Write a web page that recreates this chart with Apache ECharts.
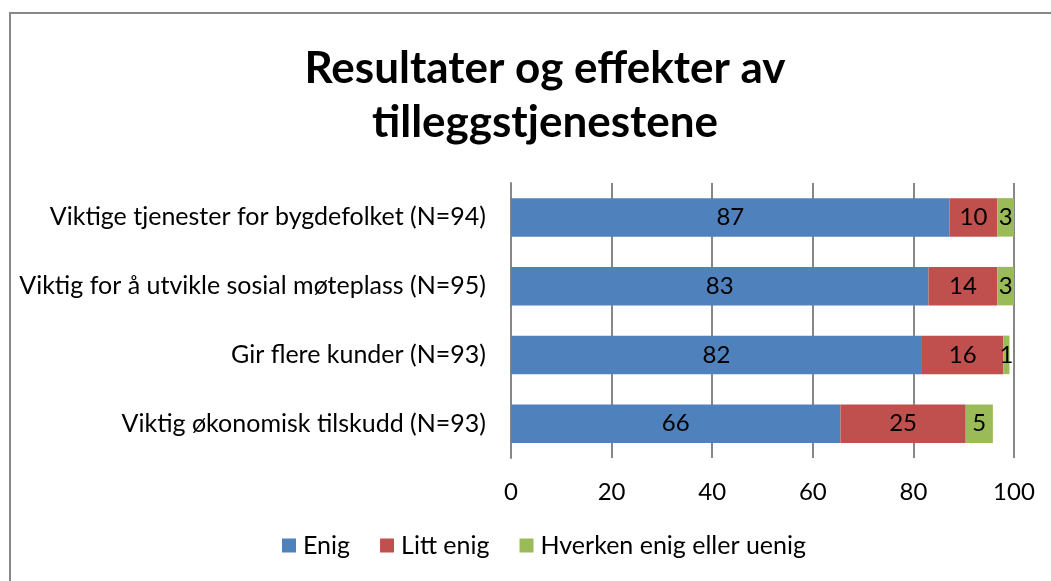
<!DOCTYPE html>
<html>
<head>
<meta charset="utf-8">
<script src="https://cdn.jsdelivr.net/npm/echarts@6/dist/echarts.min.js"></script>
<style>
  html, body { margin: 0; padding: 0; background: #fff; }
  #frame {
    position: absolute; left: 9px; top: 12px; width: 1100px; height: 640px;
    border-left: 2px solid #878787; border-top: 2px solid #878787;
    box-sizing: border-box;
  }
  #chart { position: absolute; left: 0; top: 0; width: 1051px; height: 581px; }
</style>
</head>
<body>
<div id="frame"></div>
<div id="chart"></div>
<script>
// data
const categories = [
  "Viktige tjenester for bygdefolket (N=94)",
  "Viktig for å utvikle sosial møteplass (N=95)",
  "Gir flere kunder (N=93)",
  "Viktig økonomisk tilskudd (N=93)"
];
const enig = [87.2, 83.0, 81.7, 65.5];
const littEnig = [9.5, 13.7, 16.2, 24.9];
const hverken = [3.3, 3.3, 1.2, 5.4];
const xTicks = [0, 20, 40, 60, 80, 100];

const FONT = "Lato, 'Open Sans', sans-serif";

const chart = echarts.init(document.getElementById("chart"));

function barSeries(name, data, color) {
  return {
    name: name,
    type: "bar",
    stack: "total",
    data: data,
    barWidth: "56%",
    itemStyle: { color: color },
    label: {
      show: true,
      position: "inside",
      color: "#000",
      fontFamily: FONT,
      fontSize: 24,
      formatter: (p) => Math.round(p.value)
    }
  };
}

chart.setOption({
  animation: false,
  title: {
    text: "Resultater og effekter av\ntilleggstjenestene",
    left: 540,
    textAlign: "center",
    top: 37,
    textStyle: {
      fontFamily: FONT,
      fontSize: 44,
      fontWeight: "bold",
      color: "#000",
      lineHeight: 54
    }
  },
  legend: {
    bottom: 18,
    left: 277,
    itemWidth: 14,
    itemHeight: 14,
    itemGap: 30,
    icon: "rect",
    textStyle: { fontFamily: FONT, fontSize: 25, color: "#000", padding: [0, 0, 0, 2] },
    data: ["Enig", "Litt enig", "Hverken enig eller uenig"]
  },
  grid: { left: 511, right: 37, top: 183, bottom: 123, containLabel: false },
  xAxis: {
    type: "value",
    min: 0,
    max: 100,
    interval: 20,
    axisLine: { show: false },
    axisTick: { show: false },
    splitLine: { show: true, lineStyle: { color: "#878787", width: 2 } },
    axisLabel: {
      fontFamily: FONT,
      fontSize: 24,
      color: "#000",
      margin: 22,
      formatter: (v) => (xTicks.includes(v) ? String(v) : "")
    }
  },
  yAxis: {
    type: "category",
    inverse: true,
    data: categories,
    axisLine: { show: true, lineStyle: { color: "#878787", width: 2 } },
    axisTick: { show: false },
    axisLabel: {
      fontFamily: FONT,
      fontSize: 25,
      color: "#000",
      margin: 25
    }
  },
  series: [
    barSeries("Enig", enig, "#4F81BD"),
    barSeries("Litt enig", littEnig, "#C0504D"),
    barSeries("Hverken enig eller uenig", hverken, "#9BBB59")
  ]
});
</script>
</body>
</html>
